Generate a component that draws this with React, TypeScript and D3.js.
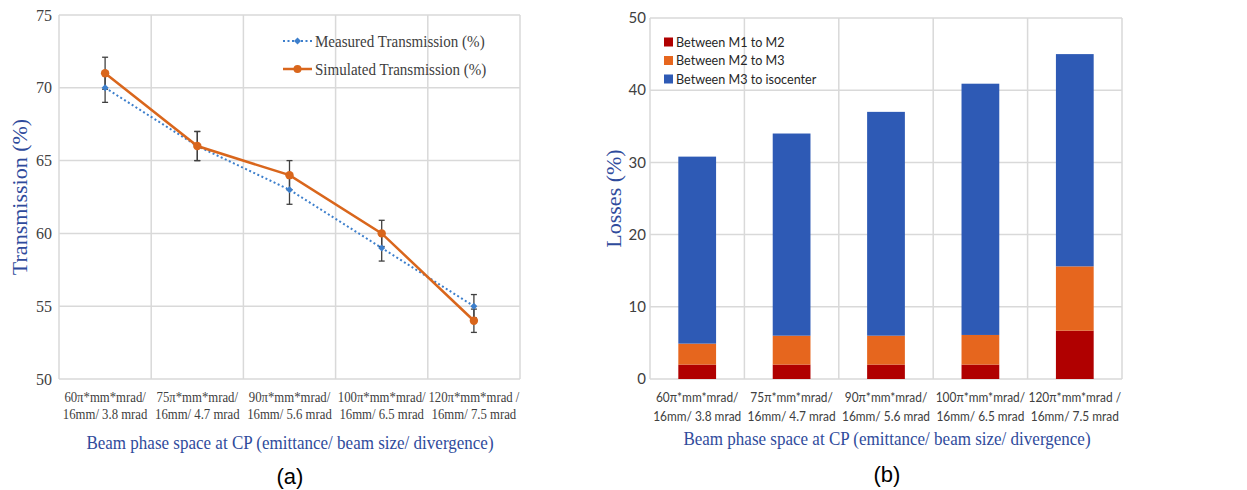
import React from "react";
import * as d3 from "d3";

// x categories (two lines each)
const categoryLines: string[][] = [
  ["60π*mm*mrad/", "16mm/ 3.8 mrad"],
  ["75π*mm*mrad/", "16mm/ 4.7 mrad"],
  ["90π*mm*mrad/", "16mm/ 5.6 mrad"],
  ["100π*mm*mrad/", "16mm/ 6.5 mrad"],
  ["120π*mm*mrad /", "16mm/ 7.5 mrad"],
];

// (a) transmission
const transTicks = [50, 55, 60, 65, 70, 75];
const measured = [70, 66, 63, 59, 55];
const measuredErr = [1, 1, 1, 0.9, 0.8];
const simulated = [71, 66, 64, 60, 54];
const simulatedErr = [1.1, 1, 1, 0.9, 0.8];

// (b) losses, stacked
const lossTicks = [0, 10, 20, 30, 40, 50];
const lossM1M2 = [2, 2, 2, 2, 6.7];
const lossM2M3 = [2.9, 4, 4, 4.1, 8.9];
const lossM3Iso = [25.9, 28, 31, 34.8, 29.4];
const lossNames = ["Between M1 to M2", "Between M2 to M3", "Between M3 to isocenter"];
const lossColors = ["#b00000", "#e6661e", "#2e5ab5"];

const SERIF = "'Liberation Serif', 'Times New Roman', serif";
const SANS = "Lato, 'Open Sans', sans-serif";
const GRID = "#d9d9d9";
const TITLE_BLUE = "#2f4b9c";
const BLUE = "#3d7fcc";
const ORANGE = "#d9661c";
const XTITLE = "Beam phase space at CP (emittance/ beam size/ divergence)";

const idx = categoryLines.map((_, i) => i);

// text squeezed horizontally like the source image
function SqText({ x, y, sx, children, ...rest }: any) {
  return (
    <g transform={`translate(${x},${y}) scale(${sx},1)`}>
      <text x={0} y={0} {...rest}>{children}</text>
    </g>
  );
}

function CatLabel({ x, lines, font, size, sx, lh }: { x: number; lines: string[]; font: string; size: number; sx: number; lh: number }) {
  return (
    <g transform={`translate(${x},0) scale(${sx},1)`}>
      <text textAnchor="middle" fontFamily={font} fontSize={size} fill="#404040">
        {lines.map((l, j) => (
          <tspan key={j} x={0} y={402 + j * lh}>{l}</tspan>
        ))}
      </text>
    </g>
  );
}

function ChartA() {
  const x = d3.scaleBand<number>().domain(idx).range([59, 520]);
  const y = d3.scaleLinear().domain([50, 75]).range([379, 15]);
  const cx = (i: number) => (x(i) as number) + x.bandwidth() / 2;

  const lineM = d3.line<number>().x((_, i) => cx(i)).y(d => y(d))(measured) as string;
  const lineS = d3.line<number>().x((_, i) => cx(i)).y(d => y(d))(simulated) as string;

  const errBar = (v: number, e: number, i: number, k: string) => (
    <g key={k} stroke="#404040" strokeWidth={1.3}>
      <line x1={cx(i)} x2={cx(i)} y1={y(v - e)} y2={y(v + e)} />
      <line x1={cx(i) - 3} x2={cx(i) + 3} y1={y(v - e)} y2={y(v - e)} />
      <line x1={cx(i) - 3} x2={cx(i) + 3} y1={y(v + e)} y2={y(v + e)} />
    </g>
  );

  const diamond = (px: number, py: number, k: string) => (
    <path key={k} d={`M${px},${py - 3.5}L${px + 3.5},${py}L${px},${py + 3.5}L${px - 3.5},${py}Z`} fill={BLUE} />
  );

  return (
    <g>
      {/* grid */}
      {transTicks.map(t => (
        <line key={t} x1={59} x2={520} y1={y(t)} y2={y(t)} stroke={GRID} strokeWidth={1.5} />
      ))}
      {idx.map(i => (
        <line key={i} x1={x(i)} x2={x(i)} y1={15} y2={379} stroke={GRID} strokeWidth={1.5} />
      ))}
      <line x1={520} x2={520} y1={15} y2={379} stroke={GRID} strokeWidth={1.5} />
      {/* y ticks */}
      {transTicks.map(t => (
        <text key={t} x={52} y={y(t)} dy="0.35em" textAnchor="end" fontFamily={SERIF} fontSize={16} fill="#404040">
          {t}
        </text>
      ))}
      {/* x ticks */}
      {categoryLines.map((lines, i) => (
        <CatLabel key={i} x={cx(i)} lines={lines} font={SERIF} size={15} sx={0.85} lh={17} />
      ))}
      {/* error bars */}
      {measured.map((v, i) => errBar(v, measuredErr[i], i, "m" + i))}
      {simulated.map((v, i) => errBar(v, simulatedErr[i], i, "s" + i))}
      {/* lines */}
      <path d={lineM} fill="none" stroke={BLUE} strokeWidth={2} strokeDasharray="2,2.5" />
      {measured.map((v, i) => diamond(cx(i), y(v), "d" + i))}
      <path d={lineS} fill="none" stroke={ORANGE} strokeWidth={2.5} />
      {simulated.map((v, i) => (
        <circle key={i} cx={cx(i)} cy={y(v)} r={4.2} fill={ORANGE} />
      ))}
      {/* legend */}
      <line x1={283} x2={312} y1={41} y2={41} stroke={BLUE} strokeWidth={2} strokeDasharray="2,2.5" />
      {diamond(297.5, 41, "ld")}
      <SqText x={315} y={41} sx={0.86} dy="0.35em" fontFamily={SERIF} fontSize={17.5} fill="#404040">Measured Transmission (%)</SqText>
      <line x1={283} x2={312} y1={69} y2={69} stroke={ORANGE} strokeWidth={2.5} />
      <circle cx={297.5} cy={69} r={4} fill={ORANGE} />
      <SqText x={315} y={69} sx={0.86} dy="0.35em" fontFamily={SERIF} fontSize={17.5} fill="#404040">Simulated Transmission (%)</SqText>
      {/* axis titles */}
      <text transform={`translate(19,${(15 + 379) / 2}) rotate(-90)`} textAnchor="middle" dy="0.35em"
        fontFamily={SERIF} fontSize={22} fill={TITLE_BLUE}>Transmission (%)</text>
      <SqText x={290} y={449} sx={0.92} textAnchor="middle" fontFamily={SERIF} fontSize={18.5} fill={TITLE_BLUE}>
        {XTITLE}
      </SqText>
      <text x={290} y={484} textAnchor="middle" fontFamily="'Liberation Sans', Arial, sans-serif" fontSize={22} fill="#000">(a)</text>
    </g>
  );
}

function ChartB() {
  const x = d3.scaleBand<number>().domain(idx).range([650, 1122]);
  const y = d3.scaleLinear().domain([0, 50]).range([379, 18]);
  const rows = idx.map(i => ({ i, a: lossM1M2[i], b: lossM2M3[i], c: lossM3Iso[i] }));
  const series = d3.stack<any>().keys(["a", "b", "c"])(rows);
  const bw = x.bandwidth() * 0.4;
  const cx = (i: number) => (x(i) as number) + x.bandwidth() / 2;

  return (
    <g>
      {lossTicks.map(t => (
        <line key={t} x1={650} x2={1122} y1={y(t)} y2={y(t)} stroke={GRID} strokeWidth={1.5} />
      ))}
      {idx.map(i => (
        <line key={i} x1={x(i)} x2={x(i)} y1={18} y2={379} stroke={GRID} strokeWidth={1.5} />
      ))}
      <line x1={1122} x2={1122} y1={18} y2={379} stroke={GRID} strokeWidth={1.5} />
      {lossTicks.map(t => (
        <text key={t} x={646} y={y(t)} dy="0.35em" textAnchor="end" fontFamily={SANS} fontSize={15} fill="#404040">
          {t}
        </text>
      ))}
      {series.map((s, k) =>
        s.map((d, i) => (
          <rect key={k + "-" + i} x={cx(i) - bw / 2} width={bw} y={y(d[1])} height={y(d[0]) - y(d[1])} fill={lossColors[k]} />
        ))
      )}
      {categoryLines.map((lines, i) => (
        <CatLabel key={i} x={cx(i)} lines={lines} font={SANS} size={14} sx={0.85} lh={19} />
      ))}
      {lossNames.map((n, k) => (
        <g key={n}>
          <rect x={664} y={42 + k * 18.5 - 4.5} width={9} height={9} fill={lossColors[k]} />
          <SqText x={676} y={42 + k * 18.5} sx={0.9} dy="0.35em" fontFamily={SANS} fontSize={14} fill="#262626">{n}</SqText>
        </g>
      ))}
      <text transform={`translate(613,${(18 + 379) / 2}) rotate(-90)`} textAnchor="middle" dy="0.35em"
        fontFamily={SERIF} fontSize={22} fill={TITLE_BLUE}>Losses (%)</text>
      <SqText x={887} y={445} sx={0.92} textAnchor="middle" fontFamily={SERIF} fontSize={18.5} fill={TITLE_BLUE}>
        {XTITLE}
      </SqText>
      <text x={887} y={482} textAnchor="middle" fontFamily="'Liberation Sans', Arial, sans-serif" fontSize={22} fill="#000">(b)</text>
    </g>
  );
}

export default function App() {
  return (
    <div style={{ position: "absolute", left: 0, top: 0 }}>
      <svg width={1247} height={490} style={{ display: "block", background: "#fff" }}>
        <ChartA />
        <ChartB />
      </svg>
    </div>
  );
}
